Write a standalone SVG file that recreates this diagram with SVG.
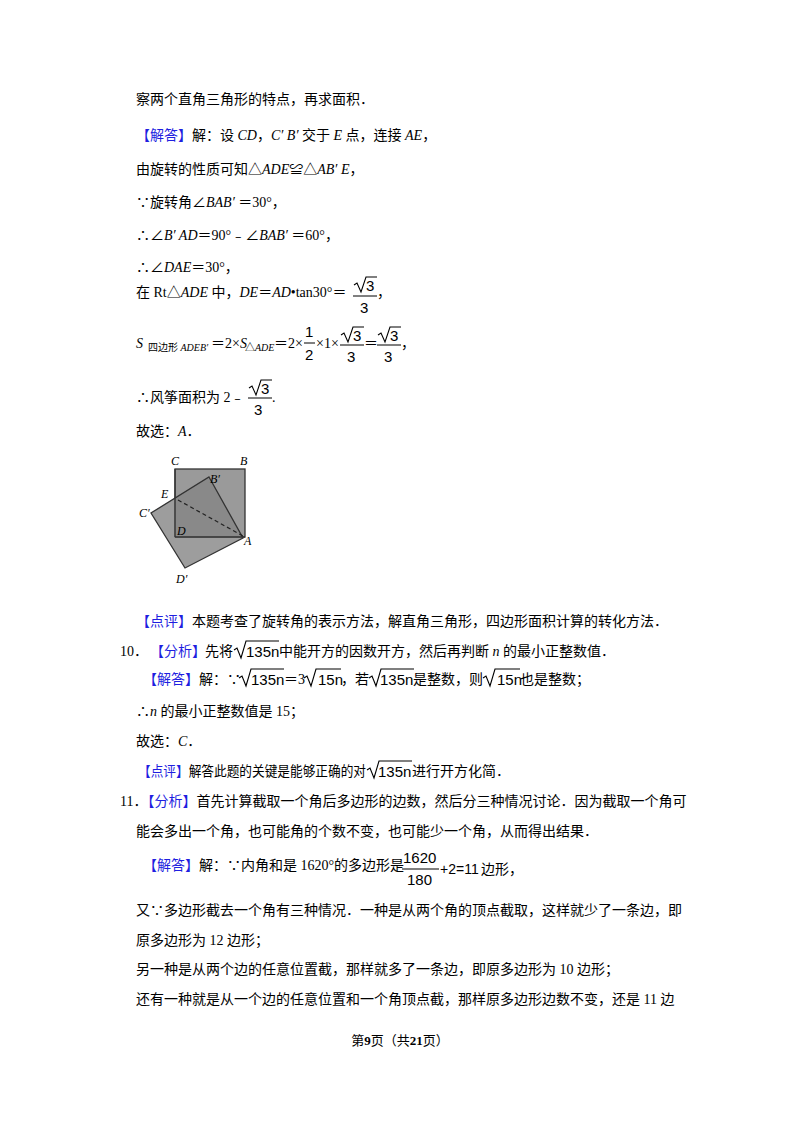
<svg xmlns="http://www.w3.org/2000/svg" width="800" height="1132" viewBox="0 0 800 1132">
<style>
text{font-family:"Liberation Serif","Noto Sans CJK SC",serif;font-size:14px;fill:#000}
.b{fill:#1f1fe0}
.s{font-family:"Liberation Sans","Noto Sans CJK SC",sans-serif;font-size:15px}
.i{font-style:italic}
.rad{fill:none;stroke:#000;stroke-width:1.1}
.fb{stroke:#000;stroke-width:1}
.lb{font-size:12px;font-style:italic}
</style>
<rect width="800" height="1132" fill="#fff"/>
<text x="136" y="104">察两个直角三角形的特点，再求面积．</text>
<text x="136" y="140"><tspan class="b">【解答】</tspan>解：设 <tspan class="i">CD</tspan>，<tspan class="i">C′ B′</tspan> 交于 <tspan class="i">E</tspan> 点，连接 <tspan class="i">AE</tspan>，</text>
<text x="136" y="174">由旋转的性质可知△<tspan class="i">ADE</tspan>≌△<tspan class="i">AB′ E</tspan>，</text>
<text x="136" y="207">∵旋转角∠<tspan class="i">BAB′</tspan> ＝30°，</text>
<text x="136" y="240">∴∠<tspan class="i">B′ AD</tspan>＝90°﹣∠<tspan class="i">BAB′</tspan> ＝60°，</text>
<text x="136" y="272">∴∠<tspan class="i">DAE</tspan>＝30°，</text>
<text x="136" y="297">在 Rt△<tspan class="i">ADE</tspan> 中，<tspan class="i">DE</tspan>＝<tspan class="i">AD</tspan>•tan30°＝</text>
<g><path class="rad" d="M354,285 l3,-2 l4,9 l5,-15 h11"/><text class="s" x="366" y="291">3</text><line class="fb" x1="353" y1="296" x2="377" y2="296"/><text class="s" x="360" y="313">3</text><text x="377" y="297">，</text></g>
<text x="136" y="348" class="i">S</text><text x="148" y="351" style="font-size:10px">四边形 <tspan class="i">ADEB′</tspan></text>
<text x="211" y="348">＝2×<tspan class="i">S</tspan></text><text x="245" y="351" style="font-size:10px">△<tspan class="i">ADE</tspan></text><text x="274" y="348">＝2×</text>
<g><text class="s" x="305" y="337">1</text><line class="fb" x1="304" y1="343" x2="315" y2="343"/><text class="s" x="305" y="360">2</text></g>
<text x="316" y="348">×1×</text>
<g><path class="rad" d="M341,335 l3,-2 l4,9 l5,-15 h11"/><text class="s" x="353" y="341">3</text><line class="fb" x1="340" y1="345" x2="364" y2="345"/><text class="s" x="347" y="362">3</text></g>
<text x="364" y="348">＝</text>
<g><path class="rad" d="M378,335 l3,-2 l4,9 l5,-15 h11"/><text class="s" x="390" y="341">3</text><line class="fb" x1="377" y1="345" x2="401" y2="345"/><text class="s" x="384" y="362">3</text></g>
<text x="401" y="348">，</text>
<text x="136" y="402">∴风筝面积为 2﹣</text>
<g><path class="rad" d="M249,388 l3,-2 l4,9 l5,-15 h11"/><text class="s" x="261" y="394">3</text><line class="fb" x1="248" y1="398" x2="272" y2="398"/><text class="s" x="254" y="415">3</text><text x="272" y="402">.</text></g>
<text x="136" y="436">故选：<tspan class="i">A</tspan>．</text>
<g id="figure">
<rect x="175" y="469" width="70" height="68" fill="#9a9a9a" stroke="#333" stroke-width="1.3"/>
<polygon points="209,477 243,538 185,568 151,513" fill="#858585" fill-opacity="0.8" stroke="#333" stroke-width="1.3"/>
<line x1="175" y1="469" x2="175" y2="537" stroke="#333" stroke-width="1.3"/>
<line x1="175" y1="537" x2="245" y2="537" stroke="#333" stroke-width="1.3"/>
<line x1="178" y1="500" x2="243" y2="536" stroke="#222" stroke-width="1.2" stroke-dasharray="4,3"/>
<text class="lb" x="171" y="465">C</text>
<text class="lb" x="240" y="465">B</text>
<text class="lb" x="210" y="483">B′</text>
<text class="lb" x="161" y="498">E</text>
<text class="lb" x="139" y="517">C′</text>
<text class="lb" x="177" y="535">D</text>
<text class="lb" x="244" y="545">A</text>
<text class="lb" x="176" y="583">D′</text>
</g>
<text x="136" y="626"><tspan class="b">【点评】</tspan>本题考查了旋转角的表示方法，解直角三角形，四边形面积计算的转化方法．</text>
<text x="120" y="656">10．</text><text x="150" y="656" class="b">【分析】</text><text x="205" y="656">先将</text>
<g><path class="rad" d="M234,650 l3,-2 l4,10 l5,-17 h33"/><text class="s" x="246" y="657">135n</text></g>
<text x="279" y="656">中能开方的因数开方，然后再判断 <tspan class="i">n</tspan> 的最小正整数值．</text>
<text x="143" y="684"><tspan class="b">【解答】</tspan>解：∵</text>
<g><path class="rad" d="M239,678 l3,-2 l4,10 l5,-17 h33"/><text class="s" x="251" y="685">135n</text></g>
<text x="284" y="684">＝3</text>
<g><path class="rad" d="M304,678 l3,-2 l4,10 l5,-17 h25"/><text class="s" x="318" y="685">15n</text></g>
<text x="341" y="684">，若</text>
<g><path class="rad" d="M369,678 l3,-2 l4,10 l5,-17 h33"/><text class="s" x="380" y="685">135n</text></g>
<text x="413" y="684">是整数，则</text>
<g><path class="rad" d="M483,678 l3,-2 l4,10 l5,-17 h25"/><text class="s" x="497" y="685">15n</text></g>
<text x="520" y="684">也是整数；</text>
<text x="136" y="716">∴<tspan class="i">n</tspan> 的最小正整数值是 15；</text>
<text x="136" y="746">故选：<tspan class="i">C</tspan>．</text>
<text x="138" y="776" textLength="228" lengthAdjust="spacingAndGlyphs"><tspan class="b">【点评】</tspan>解答此题的关键是能够正确的对</text>
<g><path class="rad" d="M367,770 l3,-2 l4,10 l5,-17 h33"/><text class="s" x="378" y="777">135n</text></g>
<text x="412" y="776">进行开方化简．</text>
<text x="120" y="806">11．<tspan class="b">【分析】</tspan>首先计算截取一个角后多边形的边数，然后分三种情况讨论．因为截取一个角可</text>
<text x="136" y="836">能会多出一个角，也可能角的个数不变，也可能少一个角，从而得出结果．</text>
<text x="143" y="870"><tspan class="b">【解答】</tspan>解：∵内角和是 1620°的多边形是</text>
<g><text class="s" x="403" y="863">1620</text><line class="fb" x1="402" y1="869" x2="439" y2="869"/><text class="s" x="407" y="885">180</text></g>
<text class="s" x="440" y="874" style="font-size:14px">+2=11</text><text x="481" y="874">边形，</text>
<text x="136" y="915">又∵多边形截去一个角有三种情况．一种是从两个角的顶点截取，这样就少了一条边，即</text>
<text x="136" y="945">原多边形为 12 边形；</text>
<text x="136" y="974">另一种是从两个边的任意位置截，那样就多了一条边，即原多边形为 10 边形；</text>
<text x="136" y="1004">还有一种就是从一个边的任意位置和一个角顶点截，那样原多边形边数不变，还是 11 边</text>
<text x="400" y="1045" text-anchor="middle" style="font-size:13px">第<tspan font-weight="bold">9</tspan>页（共<tspan font-weight="bold">21</tspan>页）</text>
</svg>
